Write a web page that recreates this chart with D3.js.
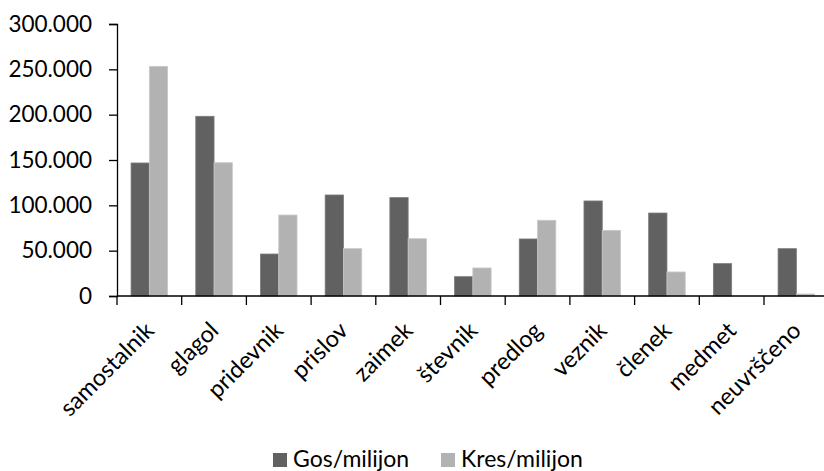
<!DOCTYPE html>
<html>
<head>
<meta charset="utf-8">
<script src="https://cdn.jsdelivr.net/npm/d3@7"></script>
<style>
  html, body { margin: 0; padding: 0; background: #fff; }
  svg { display: block; }
  text { font-family: Lato, "Open Sans", sans-serif; fill: #000; }
</style>
</head>
<body>
<svg id="chart" width="824" height="471"></svg>
<script>
// Word classes (besedne vrste)
const categories = ["samostalnik", "glagol", "pridevnik", "prislov", "zaimek", "števnik",
                    "predlog", "veznik", "členek", "medmet", "neuvrščeno"];
const seriesNames = ["Gos/milijon", "Kres/milijon"];
// Frequency per million words
const gosValues  = [146700, 198200, 46300, 111400, 108500, 21300, 62900, 104800, 91500, 35700, 52200];
const kresValues = [253300, 147000, 89300, 52200, 63200, 30900, 83500, 72400, 26500, 0, 2200];
const yTicks = [0, 50000, 100000, 150000, 200000, 250000, 300000];
const colors = ["#616161", "#b2b2b2"];
const strokes = ["#7a7a7a", "#c8c8c8"];

const svg = d3.select("#chart");
const plotLeft = 117, plotTop = 24, plotBottom = 296;
const step = 64.7;
const plotRight = plotLeft + step * categories.length;

const x = d3.scaleBand().domain(categories).range([plotLeft, plotRight]).paddingInner(0).paddingOuter(0);
const xs = d3.scaleBand().domain(seriesNames).range([0, x.bandwidth()]).paddingInner(0).paddingOuter(0.77);
const y = d3.scaleLinear().domain([0, 300000]).range([plotBottom, plotTop]);

const fmt = v => v === 0 ? "0" : d3.format(",")(v).replace(/,/g, ".");

// Bars
const rows = categories.map((c, i) => ({ c, vals: [gosValues[i], kresValues[i]] }));
const groups = svg.append("g").selectAll("g").data(rows).join("g")
  .attr("transform", d => `translate(${x(d.c)},0)`);
groups.selectAll("rect")
  .data(d => d.vals.map((v, j) => ({ v, j })).filter(e => e.v > 0))
  .join("rect")
  .attr("x", e => xs(seriesNames[e.j]))
  .attr("y", e => y(e.v))
  .attr("width", xs.bandwidth())
  .attr("height", e => y(0) - y(e.v))
  .attr("fill", e => colors[e.j])
  .attr("stroke", e => strokes[e.j])
  .attr("stroke-width", 0.8);

// Y axis
const yAxis = d3.axisLeft(y).tickValues(yTicks).tickFormat(fmt).tickSize(8).tickPadding(17);
const gy = svg.append("g").attr("transform", `translate(${plotLeft},0)`).call(yAxis);
gy.select(".domain").attr("stroke", "#000").attr("stroke-width", 1.3);
gy.selectAll(".tick line").attr("stroke", "#000").attr("stroke-width", 1.3);
gy.selectAll(".tick text").style("font-size", "22.5px").style("font-family", "Lato, sans-serif");

// X axis: ticks at category boundaries
const gx = svg.append("g").attr("transform", `translate(0,${plotBottom})`);
gx.append("line").attr("x1", plotLeft).attr("x2", plotRight).attr("stroke", "#000").attr("stroke-width", 1.3);
gx.selectAll("line.tk").data(categories).join("line").attr("class", "tk")
  .attr("x1", d => x(d)).attr("x2", d => x(d)).attr("y1", 0).attr("y2", 9)
  .attr("stroke", "#000").attr("stroke-width", 1.3);
gx.selectAll("text").data(categories).join("text")
  .attr("text-anchor", "end")
  .attr("transform", d => `translate(${x(d) + x.bandwidth() / 2 + 6},36) rotate(-45)`)
  .style("font-size", "23.5px")
  .text(d => d);

// Legend
const legend = svg.append("g");
const legendX = [273, 441];
seriesNames.forEach((s, i) => {
  legend.append("rect").attr("x", legendX[i]).attr("y", 453).attr("width", 14).attr("height", 14)
    .attr("fill", colors[i]);
  legend.append("text").attr("x", legendX[i] + 20).attr("y", 467)
    .style("font-size", "23px").text(s);
});
</script>
</body>
</html>
